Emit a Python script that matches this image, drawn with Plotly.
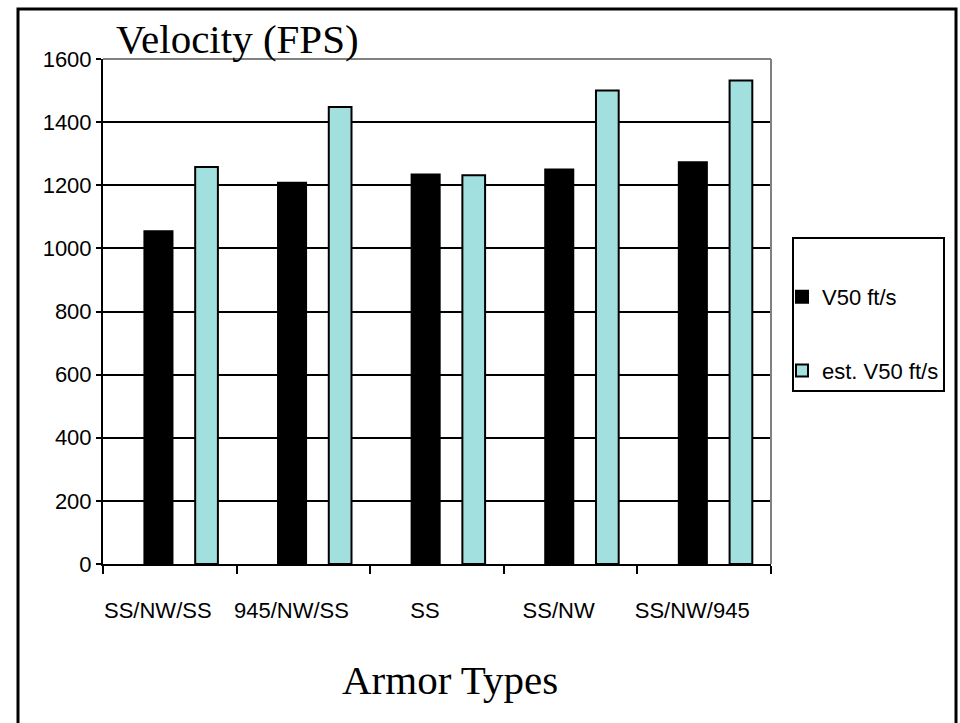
import plotly.graph_objects as go

categories = ["SS/NW/SS", "945/NW/SS", "SS", "SS/NW", "SS/NW/945"]
v50 = [1054, 1208, 1234, 1250, 1273]
est_v50 = [1258, 1448, 1232, 1500, 1532]
series_names = ["V50 ft/s", "est. V50 ft/s"]
y_ticks = [0, 200, 400, 600, 800, 1000, 1200, 1400, 1600]

W, H = 960, 723
L, R, T, B = 103, 189, 59, 159
PW, PH = W - L - R, H - T - B


def px_x(px):
    return (px - L) / PW


def px_y(py):
    return (H - B - py) / PH


fig = go.Figure()
fig.add_trace(go.Bar(
    x=categories, y=v50, name=series_names[0],
    marker=dict(color="#000000", line=dict(color="#000000", width=2)),
    offset=-0.19, width=0.21, legendgroup="a",
))
fig.add_trace(go.Bar(
    x=categories, y=est_v50, name=series_names[1],
    marker=dict(color="#A2DFDF", line=dict(color="#000000", width=2)),
    offset=0.19, width=0.17, legendgroup="b",
))

sans = "Liberation Sans, Arial, sans-serif"
serif = "Liberation Serif, Times New Roman, serif"

fig.update_layout(
    width=W, height=H,
    margin=dict(l=L, r=R, t=T, b=B, pad=0),
    paper_bgcolor="white", plot_bgcolor="white",
    font=dict(family=sans, size=22, color="black"),
    barmode="overlay",
    showlegend=True,
    legend=dict(
        x=px_x(782), y=px_y(276), xanchor="left", yanchor="top",
        bgcolor="rgba(0,0,0,0)", borderwidth=0,
        font=dict(family=sans, size=22, color="black"),
        tracegroupgap=42, traceorder="grouped",
    ),
    xaxis=dict(
        type="category", tickson="boundaries",
        showline=True, linecolor="black", linewidth=2,
        ticks="outside", ticklen=8, tickwidth=2, tickcolor="black",
        showgrid=False, ticklabelstandoff=26, ticklabelshift=-12,
        tickfont=dict(family=sans, size=22, color="black"),
        range=[-0.5, 4.5],
    ),
    yaxis=dict(
        range=[0, 1600], tickvals=y_ticks,
        showline=True, linecolor="black", linewidth=2,
        ticks="outside", ticklen=5, tickwidth=2, tickcolor="black",
        showgrid=True, gridcolor="black", gridwidth=2,
        zeroline=False,
        tickfont=dict(family=sans, size=22, color="black"),
    ),
    shapes=[
        dict(type="line", xref="paper", yref="paper", x0=0, x1=1, y0=1, y1=1,
             line=dict(color="#808080", width=2)),
        dict(type="line", xref="paper", yref="paper", x0=1, x1=1, y0=0, y1=1,
             line=dict(color="#808080", width=2)),
        dict(type="rect", xref="paper", yref="paper",
             x0=px_x(793), x1=px_x(944), y0=px_y(391), y1=px_y(238),
             line=dict(color="black", width=2), fillcolor="rgba(0,0,0,0)"),
        dict(type="rect", xref="paper", yref="paper",
             x0=px_x(18), x1=px_x(956), y0=px_y(735), y1=px_y(9),
             line=dict(color="black", width=3), fillcolor="rgba(0,0,0,0)"),
    ],
    annotations=[
        dict(text="Velocity (FPS)", xref="paper", yref="paper",
             x=px_x(114), y=px_y(39), xanchor="left", yanchor="middle",
             showarrow=False, font=dict(family=serif, size=41, color="black")),
        dict(text="Armor Types", xref="paper", yref="paper",
             x=px_x(450), y=px_y(680), xanchor="center", yanchor="middle",
             showarrow=False, font=dict(family=serif, size=41, color="black")),
    ],
)

fig.write_html("out.html")
